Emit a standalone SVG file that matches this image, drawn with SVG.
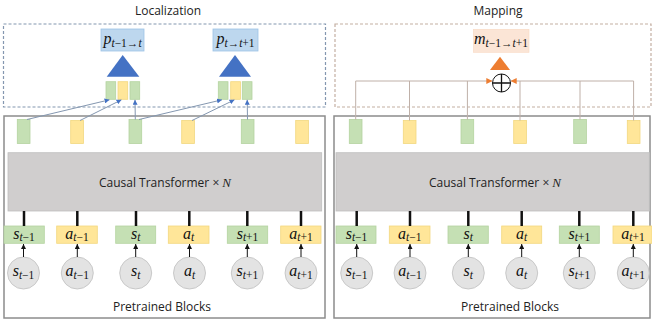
<svg xmlns="http://www.w3.org/2000/svg" width="652" height="320" viewBox="0 0 652 320">
<defs>
<style>
.title{font-family:"Open Sans","Liberation Sans",sans-serif;font-size:12px;fill:#222}
.m{font-family:"Liberation Serif",serif;font-style:italic;font-size:16px;fill:#111}
.sub{font-size:11.5px}
.up{font-style:normal}
.g{fill:#C5E0B4;stroke:#B4D3A0;stroke-width:0.8}
.y{fill:#FFE699;stroke:#F2D77F;stroke-width:0.8}
.c{fill:#E3E3E3;stroke:#BFBFBF;stroke-width:0.8}
.thick{stroke:#111;stroke-width:2.5}
.thin{stroke:#111;stroke-width:1}
.loc{stroke:#8497B0;stroke-width:1;fill:none}
.map{stroke:#BFB0A8;stroke-width:1;fill:none}
</style>
<marker id="ab" viewBox="0 0 6 6" refX="6" refY="3" markerWidth="5" markerHeight="5" markerUnits="userSpaceOnUse" orient="auto"><path d="M0,0L6,3L0,6Z" fill="#4472C4"/></marker>
<marker id="ak" viewBox="0 0 6 6" refX="6" refY="3" markerWidth="5" markerHeight="5" markerUnits="userSpaceOnUse" orient="auto"><path d="M0,0L6,3L0,6Z" fill="#111"/></marker>
<marker id="ao" viewBox="0 0 6 6" refX="6" refY="3" markerWidth="6" markerHeight="6" markerUnits="userSpaceOnUse" orient="auto"><path d="M0,0L6,3L0,6Z" fill="#ED7D31"/></marker>
</defs>
<rect width="652" height="320" fill="#fff"/>

<!-- Localization panel -->
<g id="localization">
<text class="title" x="168" y="15" text-anchor="middle">Localization</text>
<rect x="3.5" y="24" width="322" height="83" fill="none" stroke="#8497B0" stroke-width="1.2" stroke-dasharray="3,2"/>
</g>
<g id="p1">
<rect x="101" y="29" width="43" height="22" fill="#BDD7EE" stroke="#9DC3E6" stroke-width="0.8"/>
<text class="m" x="122.5" y="44" text-anchor="middle">p<tspan class="sub" dy="3">t<tspan class="up">−1→</tspan>t</tspan></text>
<path d="M106.7,76.7L122.7,55L139.3,76.7Z" fill="#4472C4"/>
<rect class="g" x="106" y="81.7" width="9.7" height="17.6"/>
<rect class="y" x="118" y="81.7" width="9.7" height="17.6"/>
<rect class="g" x="130" y="81.7" width="9.7" height="17.6"/>
</g>
<g id="p2">
<rect x="213" y="29" width="45" height="22" fill="#BDD7EE" stroke="#9DC3E6" stroke-width="0.8"/>
<text class="m" x="235.5" y="44" text-anchor="middle">p<tspan class="sub" dy="3">t<tspan class="up">→</tspan>t<tspan class="up">+1</tspan></tspan></text>
<path d="M219,76.7L235,55L251,76.7Z" fill="#4472C4"/>
<rect class="g" x="218.3" y="81.7" width="9.7" height="17.6"/>
<rect class="y" x="230.7" y="81.7" width="9.7" height="17.6"/>
<rect class="g" x="242.3" y="81.7" width="9.7" height="17.6"/>
</g>

<!-- Mapping panel -->
<g id="mapping">
<text class="title" x="498" y="15" text-anchor="middle">Mapping</text>
<rect x="335" y="24" width="316" height="83" fill="none" stroke="#C4AFA2" stroke-width="1.2" stroke-dasharray="3,2"/>
</g>
<g id="m1">
<rect x="473.3" y="29.3" width="55.7" height="23" fill="#FBE5D6" stroke="#F8D9C4" stroke-width="0.6"/>
<text class="m" x="501" y="44" text-anchor="middle">m<tspan class="sub" dy="3">t<tspan class="up">−1→</tspan>t<tspan class="up">+1</tspan></tspan></text>
<path d="M490,70L500,56.7L510,70Z" fill="#ED7D31"/>
</g>
<g id="sum">
<circle cx="501.5" cy="83" r="9" fill="#fff" stroke="#111" stroke-width="1"/>
<path d="M492.5,83H510.5M501.5,74V92" stroke="#111" stroke-width="1.3"/>
</g>

<!-- Pretrained blocks left -->
<g id="pretrained-left">
<rect x="4" y="116" width="321" height="202" fill="none" stroke="#8C8C8C" stroke-width="1.5"/>
<rect class="g" x="17.3" y="119.5" width="12.7" height="24"/>
<rect class="y" x="70.7" y="120.5" width="12.7" height="23"/>
<rect class="g" x="129" y="119.5" width="12.7" height="24"/>
<rect class="y" x="181.7" y="120.5" width="12.7" height="23"/>
<rect class="g" x="241.3" y="119.5" width="12.7" height="24"/>
<rect class="y" x="295.7" y="120.5" width="12.7" height="23"/>
<rect x="8" y="152.7" width="313.7" height="58.3" fill="#D0CECE" stroke="#BFBFBF" stroke-width="0.8"/>
<text class="title" x="165" y="187" text-anchor="middle">Causal Transformer × <tspan font-family="Liberation Serif" font-style="italic" font-size="13">N</tspan></text>
<rect class="g" x="4" y="226" width="40.3" height="17.3"/>
<rect class="y" x="56.7" y="226" width="40.6" height="17.3"/>
<rect class="g" x="115.7" y="226" width="40" height="17.3"/>
<rect class="y" x="168.3" y="226" width="40.7" height="17.3"/>
<rect class="g" x="227.3" y="226" width="40.4" height="17.3"/>
<rect class="y" x="280.7" y="226" width="40.3" height="17.3"/>
<text class="m" x="24" y="239" text-anchor="middle">s<tspan class="sub" dy="2">t<tspan class="up">−1</tspan></tspan></text>
<text class="m" x="77" y="239" text-anchor="middle">a<tspan class="sub" dy="2">t<tspan class="up">−1</tspan></tspan></text>
<text class="m" x="135.7" y="239" text-anchor="middle">s<tspan class="sub" dy="2">t</tspan></text>
<text class="m" x="188.7" y="239" text-anchor="middle">a<tspan class="sub" dy="2">t</tspan></text>
<text class="m" x="247.5" y="239" text-anchor="middle">s<tspan class="sub" dy="2">t<tspan class="up">+1</tspan></tspan></text>
<text class="m" x="301" y="239" text-anchor="middle">a<tspan class="sub" dy="2">t<tspan class="up">+1</tspan></tspan></text>
<circle class="c" cx="23.5" cy="273" r="16"/>
<circle class="c" cx="77.3" cy="273" r="16"/>
<circle class="c" cx="135.7" cy="273" r="16"/>
<circle class="c" cx="189.5" cy="273" r="16"/>
<circle class="c" cx="247.3" cy="273" r="16"/>
<circle class="c" cx="301" cy="273" r="16"/>
<text class="m" x="23.5" y="276" text-anchor="middle" font-size="17">s<tspan class="sub" dy="3">t<tspan class="up">−1</tspan></tspan></text>
<text class="m" x="77.3" y="276" text-anchor="middle" font-size="17">a<tspan class="sub" dy="3">t<tspan class="up">−1</tspan></tspan></text>
<text class="m" x="135.7" y="276" text-anchor="middle" font-size="17">s<tspan class="sub" dy="3">t</tspan></text>
<text class="m" x="189.5" y="276" text-anchor="middle" font-size="17">a<tspan class="sub" dy="3">t</tspan></text>
<text class="m" x="247.3" y="276" text-anchor="middle" font-size="17">s<tspan class="sub" dy="3">t<tspan class="up">+1</tspan></tspan></text>
<text class="m" x="301" y="276" text-anchor="middle" font-size="17">a<tspan class="sub" dy="3">t<tspan class="up">+1</tspan></tspan></text>
<text class="title" x="162" y="311" text-anchor="middle">Pretrained Blocks</text>
</g>

<!-- Pretrained blocks right -->
<g id="pretrained-right">
<rect x="334" y="116" width="316" height="202" fill="none" stroke="#8C8C8C" stroke-width="1.5"/>
<rect class="g" x="349.3" y="119.5" width="12.7" height="24"/>
<rect class="y" x="403.3" y="120.5" width="12.7" height="23"/>
<rect class="g" x="461" y="119.5" width="12.7" height="24"/>
<rect class="y" x="513.7" y="120.5" width="12.7" height="23"/>
<rect class="g" x="573.7" y="119.5" width="12.7" height="24"/>
<rect class="y" x="627.3" y="120.5" width="12.7" height="23"/>
<rect x="336" y="152.7" width="313.3" height="58.3" fill="#D0CECE" stroke="#BFBFBF" stroke-width="0.8"/>
<text class="title" x="495" y="187" text-anchor="middle">Causal Transformer × <tspan font-family="Liberation Serif" font-style="italic" font-size="13">N</tspan></text>
<rect class="g" x="336" y="226" width="40" height="17.3"/>
<rect class="y" x="389.3" y="226" width="40.7" height="17.3"/>
<rect class="g" x="448" y="226" width="40.3" height="17.3"/>
<rect class="y" x="501.7" y="226" width="40" height="17.3"/>
<rect class="g" x="559.3" y="226" width="40" height="17.3"/>
<rect class="y" x="613" y="226" width="39" height="17.3"/>
<text class="m" x="356.5" y="239" text-anchor="middle">s<tspan class="sub" dy="2">t<tspan class="up">−1</tspan></tspan></text>
<text class="m" x="409.7" y="239" text-anchor="middle">a<tspan class="sub" dy="2">t<tspan class="up">−1</tspan></tspan></text>
<text class="m" x="468.2" y="239" text-anchor="middle">s<tspan class="sub" dy="2">t</tspan></text>
<text class="m" x="521.7" y="239" text-anchor="middle">a<tspan class="sub" dy="2">t</tspan></text>
<text class="m" x="579.3" y="239" text-anchor="middle">s<tspan class="sub" dy="2">t<tspan class="up">+1</tspan></tspan></text>
<text class="m" x="633" y="239" text-anchor="middle">a<tspan class="sub" dy="2">t<tspan class="up">+1</tspan></tspan></text>
<circle class="c" cx="356.7" cy="273" r="16"/>
<circle class="c" cx="410" cy="273" r="16"/>
<circle class="c" cx="468.3" cy="273" r="16"/>
<circle class="c" cx="521.7" cy="273" r="16"/>
<circle class="c" cx="579.3" cy="273" r="16"/>
<circle class="c" cx="633.3" cy="273" r="16"/>
<text class="m" x="356.7" y="276" text-anchor="middle" font-size="17">s<tspan class="sub" dy="3">t<tspan class="up">−1</tspan></tspan></text>
<text class="m" x="410" y="276" text-anchor="middle" font-size="17">a<tspan class="sub" dy="3">t<tspan class="up">−1</tspan></tspan></text>
<text class="m" x="468.3" y="276" text-anchor="middle" font-size="17">s<tspan class="sub" dy="3">t</tspan></text>
<text class="m" x="521.7" y="276" text-anchor="middle" font-size="17">a<tspan class="sub" dy="3">t</tspan></text>
<text class="m" x="579.3" y="276" text-anchor="middle" font-size="17">s<tspan class="sub" dy="3">t<tspan class="up">+1</tspan></tspan></text>
<text class="m" x="633.3" y="276" text-anchor="middle" font-size="17">a<tspan class="sub" dy="3">t<tspan class="up">+1</tspan></tspan></text>
<text class="title" x="510" y="311" text-anchor="middle">Pretrained Blocks</text>
</g>

<!-- Connectors -->
<g id="connectors">
<g class="thick">
<line x1="24" y1="211" x2="24" y2="226"/><line x1="77.3" y1="211" x2="77.3" y2="226"/><line x1="136" y1="211" x2="136" y2="226"/><line x1="189.3" y1="211" x2="189.3" y2="226"/><line x1="247.3" y1="211" x2="247.3" y2="226"/><line x1="301" y1="211" x2="301" y2="226"/>
<line x1="356.7" y1="211" x2="356.7" y2="226"/><line x1="410" y1="211" x2="410" y2="226"/><line x1="468.3" y1="211" x2="468.3" y2="226"/><line x1="521.7" y1="211" x2="521.7" y2="226"/><line x1="579.3" y1="211" x2="579.3" y2="226"/><line x1="633.3" y1="211" x2="633.3" y2="226"/>
</g>
<g class="thin" marker-end="url(#ak)">
<line x1="23.5" y1="257" x2="23.5" y2="244"/><line x1="77.3" y1="257" x2="77.3" y2="244"/><line x1="135.7" y1="257" x2="135.7" y2="244"/><line x1="189.5" y1="257" x2="189.5" y2="244"/><line x1="247.3" y1="257" x2="247.3" y2="244"/><line x1="301" y1="257" x2="301" y2="244"/>
<line x1="356.7" y1="257" x2="356.7" y2="244"/><line x1="410" y1="257" x2="410" y2="244"/><line x1="468.3" y1="257" x2="468.3" y2="244"/><line x1="521.7" y1="257" x2="521.7" y2="244"/><line x1="579.3" y1="257" x2="579.3" y2="244"/><line x1="633.3" y1="257" x2="633.3" y2="244"/>
</g>
<g class="loc" marker-end="url(#ab)">
<line x1="27" y1="119.5" x2="109.5" y2="99.8"/>
<line x1="80" y1="120.5" x2="121.5" y2="99.8"/>
<line x1="135.3" y1="119.5" x2="135" y2="99.8"/>
<line x1="139" y1="119.5" x2="222" y2="99.8"/>
<line x1="192" y1="120.5" x2="234.5" y2="99.8"/>
<line x1="247.5" y1="119.5" x2="247.2" y2="99.8"/>
</g>
<g class="map">
<line x1="355.7" y1="81" x2="355.7" y2="119.5"/>
<line x1="409.5" y1="81" x2="409.5" y2="120.5"/>
<line x1="467.4" y1="81" x2="467.4" y2="119.5"/>
<line x1="520" y1="81" x2="520" y2="120.5"/>
<line x1="580" y1="81" x2="580" y2="119.5"/>
<line x1="633.6" y1="81" x2="633.6" y2="120.5"/>
<polyline points="355.7,81 492.3,81" marker-end="url(#ao)"/>
<polyline points="633.6,81 510.7,81" marker-end="url(#ao)"/>
</g>
</g>
</svg>
